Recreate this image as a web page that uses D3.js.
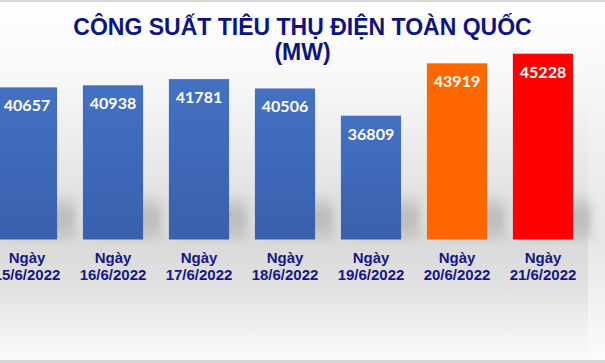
<!DOCTYPE html>
<html>
<head>
<meta charset="utf-8">
<script src="https://cdnjs.cloudflare.com/ajax/libs/d3/7.8.5/d3.min.js"></script>
<style>
  html, body { margin: 0; padding: 0; background: #fff; }
  #chart { width: 605px; height: 363px; overflow: hidden; }
</style>
</head>
<body>
<div id="chart"></div>
<script>
const days = ["15/6/2022", "16/6/2022", "17/6/2022", "18/6/2022", "19/6/2022", "20/6/2022", "21/6/2022"];
const values = [40657, 40938, 41781, 40506, 36809, 43919, 45228];
const barColors = ["blue", "blue", "blue", "blue", "blue", "orange", "red"];
const titleLines = ["CÔNG SUẤT TIÊU THỤ ĐIỆN TOÀN QUỐC", "(MW)"];

const width = 605;
const height = 363;
const baseY = 239.5;

const data = days.map((d, i) => ({day: d, value: values[i], color: barColors[i]}));

const xScale = d3.scaleBand()
  .domain(days)
  .range([-16, 586])
  .paddingInner(0.3)
  .paddingOuter(0.15);

const yScale = d3.scaleLinear()
  .domain([20000, 46000])
  .range([baseY, 48]);

const svg = d3.select("#chart")
  .append("svg")
  .attr("width", width)
  .attr("height", height);

const defs = svg.append("defs");

// background gradient (white on top, grey near the axis, white again below)
const bg = defs.append("linearGradient").attr("id", "bg")
  .attr("x1", 0).attr("y1", 0).attr("x2", 0).attr("y2", 1);
bg.append("stop").attr("offset", "0%").attr("stop-color", "#ffffff");
bg.append("stop").attr("offset", "25%").attr("stop-color", "#f6f6f6");
bg.append("stop").attr("offset", "66%").attr("stop-color", "#dadada");
bg.append("stop").attr("offset", "78%").attr("stop-color", "#e0e0e0");
bg.append("stop").attr("offset", "100%").attr("stop-color", "#fcfcfc");

const bgOut = defs.append("linearGradient").attr("id", "bgOut")
  .attr("x1", 0).attr("y1", 0).attr("x2", 0).attr("y2", 1);
bgOut.append("stop").attr("offset", "0%").attr("stop-color", "#ffffff");
bgOut.append("stop").attr("offset", "66%").attr("stop-color", "#e6e6e6");
bgOut.append("stop").attr("offset", "100%").attr("stop-color", "#fcfcfc");

const blueGrad = defs.append("linearGradient").attr("id", "blueGrad")
  .attr("x1", 0).attr("y1", 0).attr("x2", 0).attr("y2", 1);
blueGrad.append("stop").attr("offset", "0%").attr("stop-color", "#4571c3");
blueGrad.append("stop").attr("offset", "100%").attr("stop-color", "#3860ad");

const shadowGrad = defs.append("linearGradient").attr("id", "shadowGrad")
  .attr("x1", 0).attr("y1", 0).attr("x2", 0).attr("y2", 1);
shadowGrad.append("stop").attr("offset", "0%").attr("stop-color", "#a0a0a0").attr("stop-opacity", 0);
shadowGrad.append("stop").attr("offset", "50%").attr("stop-color", "#a0a0a0").attr("stop-opacity", 0.6);
shadowGrad.append("stop").attr("offset", "100%").attr("stop-color", "#b4b4b4").attr("stop-opacity", 0.45);

defs.append("filter").attr("id", "blur")
  .attr("x", "-30%").attr("y", "-30%").attr("width", "160%").attr("height", "160%")
  .append("feGaussianBlur").attr("stdDeviation", 5);

const fills = {blue: "url(#blueGrad)", orange: "#ff6600", red: "#ff0000"};

svg.append("rect")
  .attr("width", width).attr("height", height)
  .attr("fill", "url(#bgOut)");

svg.append("rect")
  .attr("width", 588).attr("height", height)
  .attr("fill", "url(#bg)");

// border lines
svg.append("rect").attr("x", 0).attr("y", 0).attr("width", width).attr("height", 2).attr("fill", "#d6d6d6");
svg.append("rect").attr("x", 0).attr("y", 360).attr("width", width).attr("height", 3).attr("fill", "#d6d6d6");

// title
svg.append("g")
  .attr("font-family", "'Liberation Sans', Arial, sans-serif")
  .attr("font-weight", "bold")
  .attr("font-size", 23)
  .attr("fill", "#0d1383")
  .attr("text-anchor", "middle")
  .selectAll("text")
  .data(titleLines)
  .enter().append("text")
  .attr("x", 302.5)
  .attr("y", (d, i) => 34.5 + i * 25.5)
  .text(d => d);

// soft shadows behind the bars
svg.append("g")
  .attr("filter", "url(#blur)")
  .selectAll("rect")
  .data(data)
  .enter().append("rect")
  .attr("x", d => xScale(d.day) + 10)
  .attr("y", baseY - 48)
  .attr("width", xScale.bandwidth() + 8)
  .attr("height", 48)
  .attr("fill", "url(#shadowGrad)");

// bars
svg.append("g")
  .selectAll("rect")
  .data(data)
  .enter().append("rect")
  .attr("x", d => xScale(d.day))
  .attr("y", d => yScale(d.value))
  .attr("width", xScale.bandwidth())
  .attr("height", d => baseY - yScale(d.value))
  .attr("fill", d => fills[d.color]);

// value labels
svg.append("g")
  .attr("font-family", "Lato, 'Open Sans', sans-serif")
  .attr("font-weight", "bold")
  .attr("font-size", 16)
  .attr("fill", "#ffffff")
  .attr("text-anchor", "middle")
  .selectAll("text")
  .data(data)
  .enter().append("text")
  .attr("x", d => xScale(d.day) + xScale.bandwidth() / 2)
  .attr("y", d => yScale(d.value) + 24)
  .text(d => d.value);

// category labels
const cat = svg.append("g")
  .attr("font-family", "'Liberation Sans', Arial, sans-serif")
  .attr("font-weight", "bold")
  .attr("font-size", 15)
  .attr("fill", "#14168a")
  .attr("text-anchor", "middle")
  .selectAll("text")
  .data(data)
  .enter().append("text")
  .attr("x", d => xScale(d.day) + xScale.bandwidth() / 2)
  .attr("y", 263);

cat.append("tspan").text("Ngày");
cat.append("tspan")
  .attr("x", d => xScale(d.day) + xScale.bandwidth() / 2)
  .attr("dy", 17)
  .text(d => d.day);
</script>
</body>
</html>
